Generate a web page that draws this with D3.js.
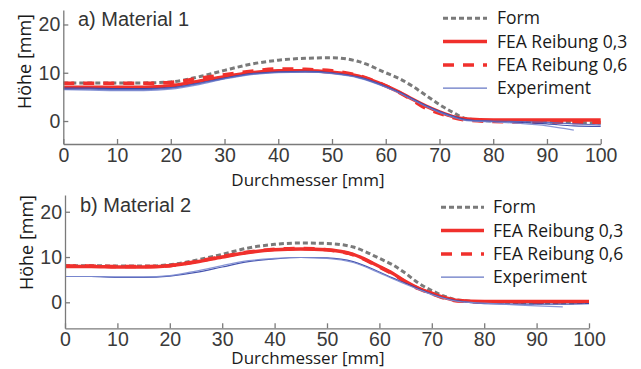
<!DOCTYPE html>
<html>
<head>
<meta charset="utf-8">
<script src="https://cdn.jsdelivr.net/npm/d3@7"></script>
<style>
  body { margin: 0; background: #fff; }
  .tick text { font-family: "Liberation Sans", Arial, sans-serif; font-size: 19.5px; fill: #3a3a3a; }
  .axis path, .axis line { stroke: #7a7a7a; stroke-width: 1.3; }
  .lbl { font-family: "Open Sans", sans-serif; fill: #1a1a1a; }
</style>
</head>
<body>
<script>
// data
const xValues = [0, 5, 10, 15, 20, 25, 30, 35, 40, 45, 50, 55, 60, 62.5, 65, 67.5, 70, 72.5, 75, 80, 85, 90, 95, 100];

// a) Material 1
const formA  = [7.9, 7.9, 7.9, 7.9, 8.1, 9.1, 10.5, 11.8, 12.6, 13.0, 13.1, 12.3, 10.0, 8.8, 7.2, 5.3, 3.4, 1.8, 0.5, 0.0, -0.1, -0.2, -0.3, -0.4];
const fea03A = [7.0, 7.0, 7.0, 7.0, 7.3, 8.2, 9.2, 10.0, 10.4, 10.4, 10.1, 9.3, 7.3, 6.0, 4.5, 3.1, 1.9, 0.9, 0.4, 0.2, 0.2, 0.2, 0.2, 0.2];
const fea06A = [7.8, 7.8, 7.8, 7.8, 8.0, 8.8, 9.6, 10.3, 10.8, 10.7, 10.4, 9.4, 7.3, 5.9, 4.3, 2.6, 1.6, 0.7, 0.2, -0.1, -0.2, -0.2, -0.3, -0.3];
const expA1  = [6.8, 6.8, 6.7, 6.7, 6.9, 7.8, 8.9, 9.8, 10.2, 10.3, 10.0, 9.1, 7.2, 6.0, 4.6, 3.2, 2.0, 1.0, 0.3, -0.1, -0.3, -0.6, -1.0, -1.1];
const expA2  = [6.5, 6.4, 6.3, 6.3, 6.6, 7.5, 8.7, 9.6, 10.0, 10.1, 9.8, 8.9, 7.0, 5.8, 4.4, 3.0, 1.8, 0.8, 0.1, -0.2, -0.5, -1.0, -1.9, null];
const expA3  = [6.6, 6.6, 6.5, 6.5, 6.8, 7.7, 8.8, 9.7, 10.1, 10.2, 9.9, 9.0, 7.1, 5.9, 4.5, 3.1, 1.9, 0.9, 0.2, 0.0, -0.1, -0.3, -0.6, -0.8];

// b) Material 2
const formB  = [8.1, 8.1, 8.0, 8.0, 8.3, 9.3, 10.6, 12.0, 12.8, 13.1, 13.0, 12.2, 9.7, 8.3, 6.4, 4.2, 2.6, 1.3, 0.5, 0.1, 0.0, -0.1, -0.1, 0.0];
const fea03B = [7.9, 7.9, 7.8, 7.8, 8.1, 8.9, 10.0, 11.0, 11.6, 11.8, 11.6, 10.6, 7.9, 6.4, 4.6, 3.1, 2.0, 1.0, 0.4, 0.2, 0.2, 0.2, 0.2, 0.2];
const fea06B = [8.0, 8.0, 7.9, 7.9, 8.1, 9.0, 10.1, 11.1, 11.7, 11.9, 11.6, 10.5, 7.8, 6.3, 4.5, 3.0, 1.9, 0.9, 0.3, 0.1, 0.1, 0.0, 0.1, 0.1];
const expB1  = [5.7, 5.7, 5.5, 5.5, 5.8, 6.6, 7.8, 9.0, 9.6, 9.9, 9.8, 9.0, 6.7, 5.4, 4.2, 3.0, 1.8, 0.9, 0.3, -0.3, -0.4, -0.4, -0.4, -0.3];
const expB2  = [5.7, 5.7, 5.6, 5.6, 5.9, 6.9, 8.1, 9.2, 9.7, 9.9, 9.7, 8.8, 6.5, 5.2, 4.0, 2.8, 1.7, 0.8, 0.2, -0.2, -0.5, -0.8, -1.0, null];

const xTicks = [0, 10, 20, 30, 40, 50, 60, 70, 80, 90, 100];
const yTicks = [0, 10, 20];
const legendLabels = ["Form", "FEA Reibung 0,3", "FEA Reibung 0,6", "Experiment"];
const titles = ["a) Material 1", "b) Material 2"];
const xLabel = "Durchmesser [mm]";
const yLabel = "Höhe [mm]";

const W = 641, H = 369;
const svg = d3.select("body").append("svg").attr("width", W).attr("height", H);

const styles = {
  form:  { stroke: "#7a7a7a", width: 3, dash: "5,3" },
  fea03: { stroke: "#f0302c", width: 3.5, dash: null },
  fea06: { stroke: "#f0302c", width: 3.5, dash: "11,9" },
  exp:   { stroke: "#4656b4", width: 1.2, dash: null }
};

const panels = [
  { title: titles[0], xr: [63.3, 600.7], yd: [-4.76, 23], yr: [144, 10],
    titleY: 26, titleX: 78, xLabY: 186, yLabX: 31, yLabY: 61.5,
    legX: [443, 487], legTextX: 497, legY: 24.3,
    series: { form: formA, fea03: fea03A, fea06: fea06A, exp: [expA1, expA2, expA3] } },
  { title: titles[1], xr: [65, 589], yd: [-5.74, 23.7], yr: [328.3, 195],
    titleY: 211.7, titleX: 80, xLabY: 363.5, yLabX: 33, yLabY: 242.5,
    legX: [441, 484], legTextX: 493, legY: 213.3,
    series: { form: formB, fea03: fea03B, fea06: fea06B, exp: [expB1, expB2] } }
];

function drawPanel(p) {
  const g = svg.append("g");
  const x = d3.scaleLinear().domain([0, 100]).range(p.xr);
  const y = d3.scaleLinear().domain(p.yd).range(p.yr);

  const line = d3.line()
    .defined(d => d != null)
    .x((d, i) => x(xValues[i]))
    .y(d => y(d))
    .curve(d3.curveMonotoneX);

  function addLine(values, st, color, opacity) {
    g.append("path")
      .attr("fill", "none")
      .attr("stroke", color || st.stroke)
      .attr("stroke-width", st.width)
      .attr("stroke-dasharray", st.dash)
      .attr("stroke-opacity", opacity || 1)
      .attr("d", line(values));
  }

  addLine(p.series.form, styles.form);
  addLine(p.series.fea03, styles.fea03);
  addLine(p.series.fea06, styles.fea06);
  const expColors = ["#3343a6", "#7d8cd2", "#5566bf"];
  p.series.exp.forEach((s, i) => addLine(s, styles.exp, expColors[i], 0.9));

  // axes, ticks pointing inward
  g.append("g")
    .attr("class", "axis")
    .attr("transform", "translate(0," + p.yr[0] + ")")
    .call(d3.axisBottom(x).tickValues(xTicks).tickSizeInner(-5).tickSizeOuter(0).tickPadding(4));
  g.append("g")
    .attr("class", "axis")
    .attr("transform", "translate(" + p.xr[0] + ",0)")
    .call(d3.axisLeft(y).tickValues(yTicks).tickSizeInner(-5).tickSizeOuter(0).tickPadding(3));

  g.append("text")
    .attr("x", p.titleX).attr("y", p.titleY)
    .style("font-family", "'Liberation Sans', Arial, sans-serif")
    .style("font-size", "20px").style("fill", "#333")
    .text(p.title);

  g.append("text").attr("class", "lbl")
    .attr("x", 308).attr("y", p.xLabY)
    .attr("text-anchor", "middle")
    .style("font-size", "17px")
    .text(xLabel);

  g.append("text").attr("class", "lbl")
    .attr("transform", "translate(" + p.yLabX + "," + p.yLabY + ") rotate(-90)")
    .attr("text-anchor", "middle")
    .style("font-size", "18px")
    .text(yLabel);

  // legend
  const keys = ["form", "fea03", "fea06", "exp"];
  keys.forEach((k, i) => {
    const st = styles[k];
    const by = p.legY + i * 23.3;
    g.append("line")
      .attr("x1", p.legX[0]).attr("x2", p.legX[1])
      .attr("y1", by - 6).attr("y2", by - 6)
      .attr("stroke", k == "exp" ? "#6677c4" : st.stroke)
      .attr("stroke-width", st.width)
      .attr("stroke-dasharray", st.dash);
    g.append("text").attr("class", "lbl")
      .attr("x", p.legTextX).attr("y", by)
      .style("font-size", "17.5px")
      .text(legendLabels[i]);
  });
}

panels.forEach(drawPanel);
</script>
</body>
</html>
